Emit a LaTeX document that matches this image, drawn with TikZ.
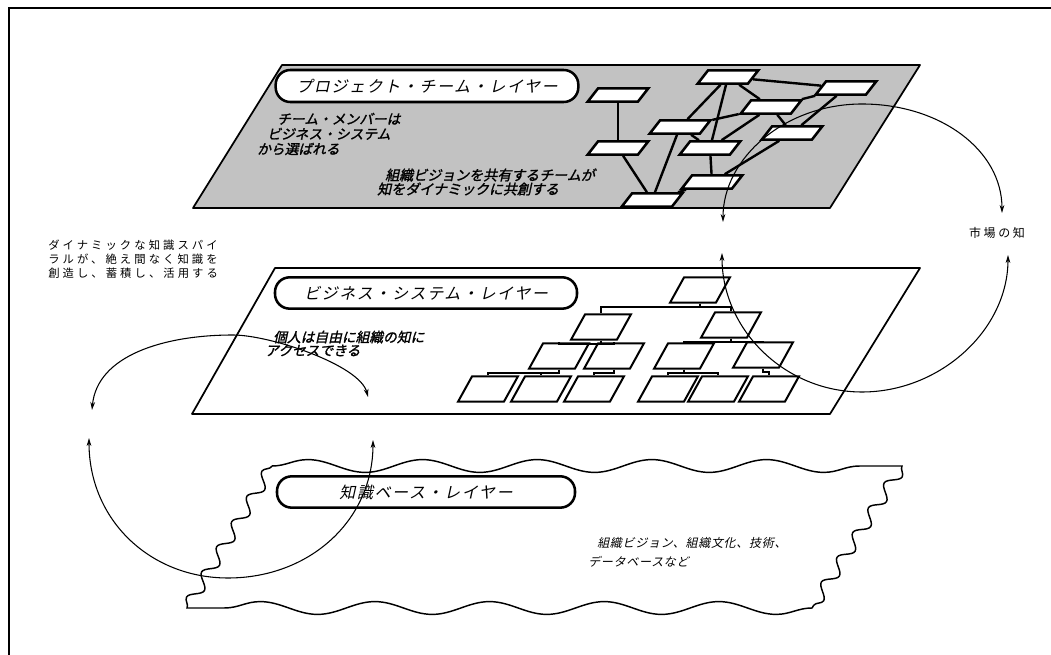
\documentclass[tikz,border=0pt]{standalone}
\usepackage{fontspec}
\usetikzlibrary{arrows.meta,positioning,shapes.geometric,decorations.pathmorphing}
\newfontfamily\jp{Noto Sans CJK JP}
\newfontfamily\jpsl[FakeSlant=0.22]{Noto Sans CJK JP}
\newfontfamily\jpbf[FakeSlant=0.22,FakeBold=1.5]{Noto Sans CJK JP}

\tikzset{
  layer/.style={draw, line width=1.3pt, line join=round},
  pill/.style={draw, line width=1.9pt, fill=white, rounded corners=11pt, inner sep=0pt,
    font=\jpsl\fontsize{12}{14}\selectfont\addfontfeature{LetterSpace=10}},
  teambox/.style={trapezium, trapezium left angle=52, trapezium right angle=128,
    draw, line width=1.9pt, fill=white, minimum size=0pt,
    inner xsep=15pt, inner ysep=4.9pt, xshift=3.75pt},
  orgbox/.style={trapezium, trapezium left angle=61, trapezium right angle=119,
    draw, line width=1.5pt, fill=white, minimum size=0pt,
    inner xsep=12pt, inner ysep=9.4pt, xshift=5.25pt},
  teamline/.style={line width=1.8pt},
  orgline/.style={line width=1.5pt},
  spiral/.style={line width=0.8pt,
    {Stealth[length=6pt,width=3.5pt]}-{Stealth[length=6pt,width=3.5pt]}},
  note/.style={align=left, anchor=west, inner sep=0pt},
}

\begin{document}
\begin{tikzpicture}[x=0.75pt, y=-0.75pt]
\useasboundingbox (0,0) rectangle (1051,655);
\draw[line width=1.4pt] (9,655) -- (9,8) -- (1051,8);

% project team layer
\draw[layer, fill=black!24] (282,65) -- (920,65) -- (830,208) -- (193,208) -- cycle;
\node[pill, minimum width=227pt, minimum height=24pt] (teampill) at (427,86) {プロジェクト・チーム・レイヤー};
\node[note, font=\jpbf\fontsize{10.3}{11.25}\selectfont] (teamnote) at (257,134)
  {\hspace*{15pt}チーム・メンバーは\\\hspace*{7.5pt}ビジネス・システム\\から選ばれる};
\node[note, font=\jpbf\fontsize{10.5}{10.5}\selectfont] (cocreate) at (377,182)
  {\hspace*{6pt}組織ビジョンを共有するチームが\\知をダイナミックに共創する};

\node[teambox] (ta) at (723,77) {};
\node[teambox] (tb) at (841,88) {};
\node[teambox] (tc) at (613,95) {};
\node[teambox] (td) at (766,107) {};
\node[teambox] (te) at (675,127) {};
\node[teambox] (tf) at (787,133) {};
\node[teambox] (tg) at (613,148) {};
\node[teambox] (th) at (705,148) {};
\node[teambox] (ti) at (707,182) {};
\node[teambox] (tj) at (647,200) {};
\foreach \a/\b in {tc/tg, tg/tj, te/tj, te/th, te/td, ta/te, ta/th, ta/td, ta/tb,
                   tb/td, tb/tf, td/tf, td/th, th/ti, ti/tf, tj/ti}
  \draw[teamline] (\a) -- (\b);

% business system layer
\draw[layer] (275,268) -- (920,268) -- (830,414) -- (192,414) -- cycle;
\node[pill, minimum width=226.5pt, minimum height=23.5pt] (bizpill) at (426,293) {ビジネス・システム・レイヤー};
\node[note, font=\jpbf\fontsize{10.3}{10}\selectfont] (biznote) at (265,343.5)
  {\hspace*{6pt}個人は自由に組織の知に\\アクセスできる};

\node[orgbox] (bt) at (693,290) {};
\node[orgbox] (b2a) at (594,327) {};
\node[orgbox] (b2b) at (724,325) {};
\node[orgbox] (b3a) at (552,356) {};
\node[orgbox] (b3b) at (607,356) {};
\node[orgbox] (b3c) at (677,356) {};
\node[orgbox] (b3d) at (756,355) {};
\node[orgbox] (b4a) at (481,389) {};
\node[orgbox] (b4b) at (534,389) {};
\node[orgbox] (b4c) at (587,389) {};
\node[orgbox] (b4d) at (661,389) {};
\node[orgbox] (b4e) at (711,389) {};
\node[orgbox] (b4f) at (762,389) {};
\foreach \a/\b in {bt/b2a, bt/b2b, b2a/b3a, b2a/b3b, b2b/b3c, b2b/b3d,
                   b3a/b4a, b3a/b4b, b3b/b4c, b3c/b4d, b3c/b4e, b3d/b4f}
  \draw[orgline] (\a.south) -- ++(0,3) -| (\b.north);

% knowledge base layer
\draw[line width=1.1pt] (272,466)
  decorate[decoration={snake, segment length=86pt, amplitude=4.8pt}] {-- (902,466)}
  decorate[decoration={snake, segment length=22pt, amplitude=4.5pt}] {-- (812,608)}
  decorate[decoration={snake, segment length=86pt, amplitude=4.8pt}] {-- (187,608)}
  decorate[decoration={snake, segment length=22pt, amplitude=4.5pt}] {-- (272,466)};
\node[pill, minimum width=223.5pt, minimum height=23.5pt] (kbpill) at (426,492) {知識ベース・レイヤー};
\node[note, font=\jpsl\fontsize{9}{14.25}\selectfont\addfontfeature{LetterSpace=6}] (kbnote) at (588,552.5)
  {\hspace*{6.75pt}組織ビジョン、組織文化、技術、\\データベースなど};

% spiral texts
\node[note, font=\jp\fontsize{8.5}{10.5}\selectfont\addfontfeature{LetterSpace=27}] (spiraltext) at (48,259)
  {ダイナミックな知識スパイ\\ラルが、絶え間なく知識を\\創造し、蓄積し、活用する};
\node[font=\jp\fontsize{9}{11}\selectfont\addfontfeature{LetterSpace=22}, inner sep=0pt] (market) at (997,233) {市場の知};

% arrows
\coordinate (mkA) at (723,222);
\coordinate (mkB) at (1002,213);
\coordinate (mkC) at (722,253);
\coordinate (mkD) at (1008,255);
\coordinate (spA) at (92,410);
\coordinate (spB) at (368,397);
\coordinate (spC) at (89,438);
\coordinate (spD) at (373,440);
\draw[spiral] (mkA) .. controls (723,158) and (785,104) .. (862,104) .. controls (940,104) and (1002,150) .. (mkB);
\draw[spiral] (mkC) .. controls (722,330) and (785,392) .. (862,392) .. controls (940,392) and (1008,330) .. (mkD);
\draw[spiral] (spA) .. controls (97,355) and (165,335) .. (233,335) .. controls (270,335) and (360,365) .. (spB);
\draw[spiral] (spC) .. controls (89,520) and (150,578) .. (228,578) .. controls (310,578) and (373,520) .. (spD);
\end{tikzpicture}
\end{document}
